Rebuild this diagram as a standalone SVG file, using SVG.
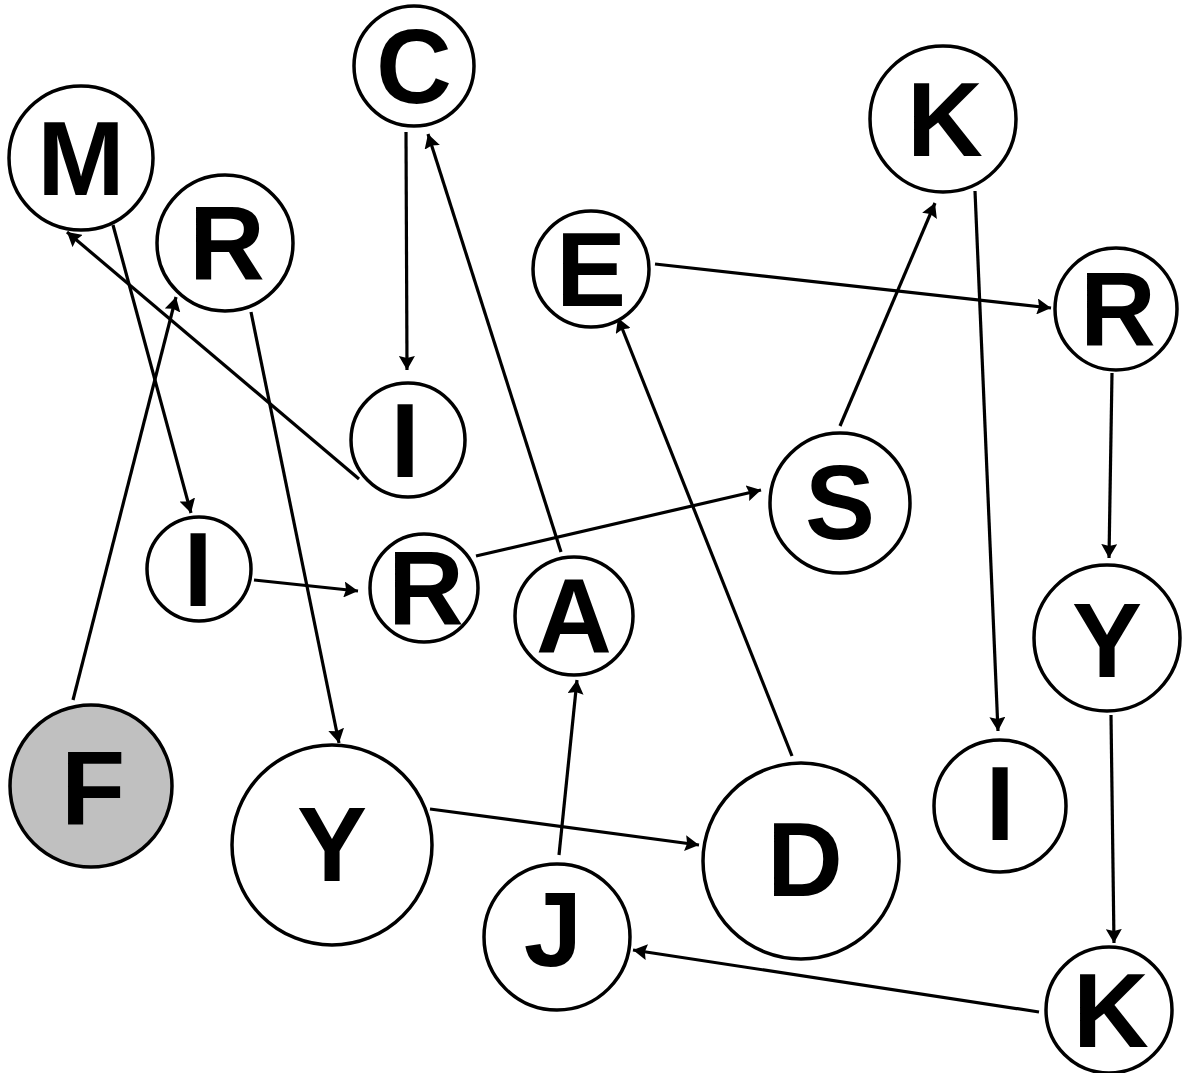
<svg xmlns="http://www.w3.org/2000/svg" width="1184" height="1073" viewBox="0 0 1184 1073">
<style>
.n{fill:#fff;stroke:#000;stroke-width:3.5}
.f{fill:#c0c0c0}
.t{font-family:"Liberation Sans",Arial,sans-serif;font-weight:bold;font-size:105px;text-anchor:middle;fill:#000}
.e{stroke:#000;stroke-width:3.2;fill:none;marker-end:url(#ah)}
</style>
<defs>
<marker id="ah" viewBox="0 0 14 16" refX="14" refY="8" markerWidth="14" markerHeight="16" markerUnits="userSpaceOnUse" orient="auto">
<path d="M0,0 L14,8 L0,16 L2,8 z" fill="#000"/>
</marker>
</defs>
<rect width="1184" height="1073" fill="#fff"/>
<g id="edges">
<line class="e" x1="406" y1="132" x2="407" y2="370"/>
<line class="e" x1="561" y1="552" x2="428" y2="134"/>
<line class="e" x1="113" y1="225" x2="191" y2="513"/>
<line class="e" x1="359" y1="479" x2="67" y2="232"/>
<line class="e" x1="73" y1="700" x2="176" y2="297"/>
<line class="e" x1="251" y1="312" x2="339" y2="743"/>
<line class="e" x1="254" y1="580" x2="358" y2="591"/>
<line class="e" x1="476" y1="556" x2="761" y2="490"/>
<line class="e" x1="559" y1="855" x2="577" y2="680"/>
<line class="e" x1="430" y1="809" x2="699" y2="845"/>
<line class="e" x1="792" y1="756" x2="618" y2="318"/>
<line class="e" x1="655" y1="264" x2="1051" y2="308"/>
<line class="e" x1="840" y1="426" x2="935" y2="203"/>
<line class="e" x1="975" y1="191" x2="998" y2="731"/>
<line class="e" x1="1112" y1="373" x2="1109" y2="558"/>
<line class="e" x1="1111" y1="715" x2="1114" y2="943"/>
<line class="e" x1="1039" y1="1012" x2="633" y2="950"/>
</g>
<g id="node-C"><circle class="n" cx="414" cy="66" r="60"/><text class="t" x="414" y="103">C</text></g>
<g id="node-M"><circle class="n" cx="81" cy="158" r="72"/><text class="t" x="81" y="195">M</text></g>
<g id="node-R1"><circle class="n" cx="225" cy="243" r="68"/><text class="t" x="227" y="280">R</text></g>
<g id="node-K1"><circle class="n" cx="943" cy="119" r="73"/><text class="t" x="945" y="156">K</text></g>
<g id="node-E"><circle class="n" cx="591" cy="269" r="58"/><text class="t" x="591" y="306">E</text></g>
<g id="node-R2"><circle class="n" cx="1116" cy="309" r="61"/><text class="t" x="1118" y="346">R</text></g>
<g id="node-I1"><circle class="n" cx="408" cy="440" r="57"/><text class="t" x="405" y="477">I</text></g>
<g id="node-S"><circle class="n" cx="840" cy="503" r="70"/><text class="t" x="840" y="539">S</text></g>
<g id="node-I2"><circle class="n" cx="199" cy="569" r="52"/><text class="t" x="198" y="606">I</text></g>
<g id="node-R3"><circle class="n" cx="424" cy="588" r="54"/><text class="t" x="426" y="625">R</text></g>
<g id="node-A"><circle class="n" cx="574" cy="616" r="59"/><text class="t" x="574" y="653">A</text></g>
<g id="node-Y1"><circle class="n" cx="1107" cy="638" r="73"/><text class="t" x="1107" y="677">Y</text></g>
<g id="node-F"><circle class="n f" cx="91" cy="786" r="81"/><text class="t" x="93" y="825">F</text></g>
<g id="node-Y2"><circle class="n" cx="332" cy="845" r="100"/><text class="t" x="332" y="881">Y</text></g>
<g id="node-I3"><circle class="n" cx="1000" cy="806" r="66"/><text class="t" x="1000" y="840">I</text></g>
<g id="node-D"><circle class="n" cx="801" cy="861" r="98"/><text class="t" x="805" y="896">D</text></g>
<g id="node-J"><circle class="n" cx="557" cy="937" r="73"/><text class="t" x="553" y="966">J</text></g>
<g id="node-K2"><circle class="n" cx="1109" cy="1010" r="63"/><text class="t" x="1111" y="1047">K</text></g>
</svg>
